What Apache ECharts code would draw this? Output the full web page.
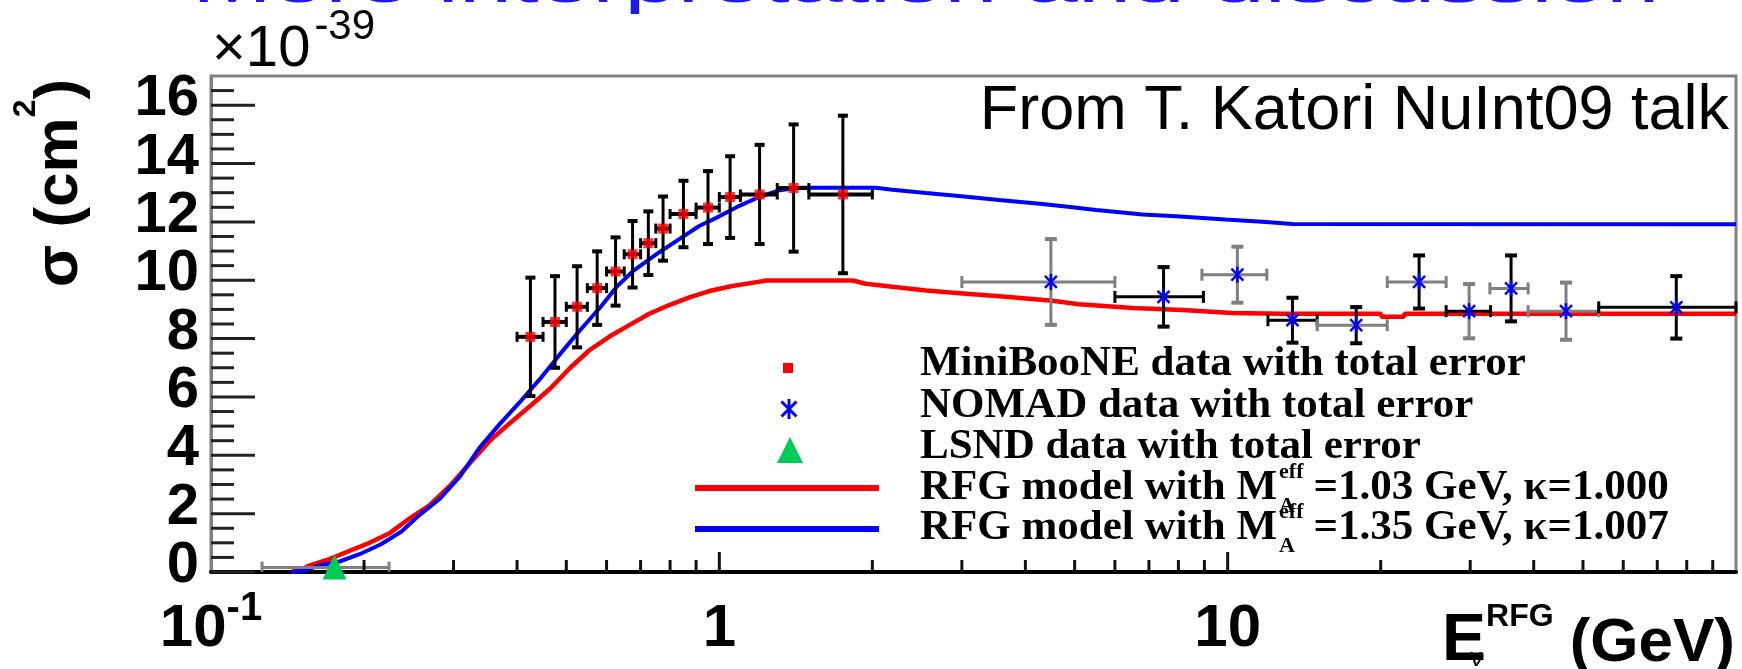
<!DOCTYPE html>
<html>
<head>
<meta charset="utf-8">
<script src="https://cdn.jsdelivr.net/npm/echarts@6/dist/echarts.min.js"></script>
<style>
  html, body { margin: 0; padding: 0; background: #fff; }
  #chart { width: 1742px; height: 669px; }
</style>
</head>
<body>
<div id="chart"></div>
<script>
// CCQE cross section per neutron versus neutrino energy, in units of 1e-39 cm^2

// MiniBooNE (bin centres, bin edges, sigma, total error)
const miniE      = [0.425, 0.475, 0.525, 0.575, 0.625, 0.675, 0.725, 0.775, 0.85, 0.95, 1.05, 1.2, 1.4, 1.75];
const miniELow   = [0.40, 0.45, 0.50, 0.55, 0.60, 0.65, 0.70, 0.75, 0.80, 0.90, 1.00, 1.10, 1.30, 1.50];
const miniEHigh  = [0.45, 0.50, 0.55, 0.60, 0.65, 0.70, 0.75, 0.80, 0.90, 1.00, 1.10, 1.30, 1.50, 2.00];
const miniSigma  = [8.06, 8.57, 9.09, 9.73, 10.30, 10.89, 11.27, 11.77, 12.27, 12.49, 12.85, 12.94, 13.16, 12.94];
const miniErr    = [2.03, 1.57, 1.39, 1.26, 1.17, 1.14, 1.09, 1.10, 1.14, 1.25, 1.40, 1.70, 2.18, 2.70];

// NOMAD
const nomadE     = [4.49, 7.48, 10.45, 13.41, 17.9, 23.8, 29.85, 36.1, 46.3, 76.3];
const nomadELow  = [3.0, 6.0, 8.9, 12.0, 15.0, 20.6, 26.9, 32.8, 39.0, 53.7];
const nomadEHigh = [6.0, 8.96, 11.94, 15.0, 20.6, 26.9, 32.9, 39.0, 53.7, 100];
const nomadSigma = [9.94, 9.43, 10.19, 8.63, 8.46, 9.94, 8.94, 9.72, 8.94, 9.07];
const nomadErr   = [1.47, 1.02, 0.96, 0.77, 0.62, 0.91, 0.93, 1.13, 0.98, 1.07];

// LSND
const lsndE      = [0.175];
const lsndELow   = [0.126];
const lsndEHigh  = [0.224];
const lsndSigma  = [0.15];

// RFG model, M_A = 1.03 GeV, kappa = 1.000
const rfg103E = [0.144, 0.152, 0.156, 0.171, 0.187, 0.205, 0.225, 0.246, 0.269, 0.295, 0.323, 0.354, 0.387, 0.424,
  0.465, 0.509, 0.555, 0.608, 0.665, 0.728, 0.797, 0.873, 0.956, 1.06, 1.16, 1.24, 1.83, 1.94, 2.19, 2.55, 3.06,
  3.66, 4.52, 5.10, 6.51, 8.15, 10.2, 12.8, 20.0, 20.1, 22.2, 22.3, 100];
const rfg103Sigma = [0, 0.12, 0.22, 0.44, 0.72, 1.0, 1.34, 1.84, 2.28, 2.95, 3.73, 4.51, 5.10, 5.68,
  6.29, 7.0, 7.6, 8.07, 8.46, 8.85, 9.15, 9.41, 9.63, 9.80, 9.91, 9.99, 9.99, 9.88, 9.78, 9.65, 9.54,
  9.43, 9.30, 9.18, 9.05, 8.98, 8.88, 8.85, 8.85, 8.75, 8.75, 8.85, 8.85];

// RFG model, M_A = 1.35 GeV, kappa = 1.007
const rfg135E = [0.144, 0.153, 0.163, 0.179, 0.196, 0.216, 0.237, 0.257, 0.282, 0.309, 0.337, 0.369, 0.405, 0.443,
  0.485, 0.531, 0.585, 0.63, 0.675, 0.762, 0.834, 0.913, 1.0, 1.095, 1.2, 1.31, 1.44, 2.03, 2.19, 2.55, 2.96,
  3.55, 4.32, 4.95, 5.51, 6.13, 6.80, 7.92, 9.90, 11.9, 13.4, 100];
const rfg135Sigma = [0, 0.05, 0.22, 0.36, 0.61, 0.95, 1.39, 1.95, 2.51, 3.28, 4.25, 5.05, 5.82, 6.6,
  7.45, 8.27, 9.1, 9.8, 10.3, 10.96, 11.41, 11.86, 12.19, 12.55, 12.86, 13.08, 13.17, 13.17, 13.10, 12.99, 12.89,
  12.75, 12.61, 12.50, 12.41, 12.33, 12.25, 12.19, 12.08, 12.0, 11.93, 11.92];

// Axis tick labels
const xTickValues = [0.1, 1, 10];
const xTickLabels = ['10{sup|-1}', '1', '10'];
const yMaxLabel = 16;

// Legend and annotation texts
const legendDataLabels = ['MiniBooNE data with total error', 'NOMAD data with total error', 'LSND data with total error'];
const modelPrefix = 'RFG model with M';
const modelSup = 'eff';
const modelSub = 'A';
const modelSuffix = ['=1.03 GeV, \u03ba=1.000', '=1.35 GeV, \u03ba=1.007'];
const pageTitle = 'More interpretation and discussion';
const creditText = 'From T. Katori NuInt09 talk';

// ---- styling ----
const SANS = '"Liberation Sans", Arial, Helvetica, sans-serif';
const SERIF = '"Liberation Serif", "Times New Roman", Times, serif';
const RED = '#ff0000';
const BLUE = '#0000ff';
const GREEN = '#00cc55';
const FRAME_GREY = '#808080';
const TONE = { k: '#000000', g: '#7f7f7f' };
// error-bar shading of the NOMAD points (vertical, horizontal)
const nomadVTone = ['g', 'k', 'g', 'k', 'k', 'k', 'g', 'k', 'g', 'k'];
const nomadHTone = ['g', 'k', 'g', 'k', 'g', 'g', 'k', 'g', 'g', 'k'];

// tick positions (log-decade minor ticks, half-unit minor ticks on y)
const xMajorTicks = [1, 10];
const xMinorTicks = [];
[0.1, 1, 10].forEach(d => { for (let m = 2; m <= 9; m++) xMinorTicks.push(+(m * d).toFixed(4)); });
const yMajorTicks = [], yMinorTicks = [];
for (let v = 0; v <= 16.5; v += 0.5) (v % 2 === 0 ? yMajorTicks : yMinorTicks).push(v);

const measureCtx = document.createElement('canvas').getContext('2d');
function textWidth(str, size, weight, family) {
  measureCtx.font = `${weight} ${size}px ${family}`;
  return measureCtx.measureText(str).width;
}
function midFromBaseline(baseline, size, family) {
  return baseline - size * (family === SERIF ? 0.3375 : 0.3465);
}
function text(x, baseline, str, size, weight, family, align, color, extra) {
  return Object.assign({
    type: 'text', x: x, y: midFromBaseline(baseline, size, family), silent: true, z: 100,
    style: {
      text: str, fontSize: size, fontWeight: weight, fontFamily: family, fill: color || '#000',
      align: align || 'left', verticalAlign: 'middle', textAlign: align || 'left', textVerticalAlign: 'middle'
    }
  }, extra || {});
}
function seg(x1, y1, x2, y2, color, width) {
  return { type: 'line', shape: { x1, y1, x2, y2 }, style: { stroke: color, lineWidth: width } };
}
function asteriskLines(cx, cy, r, color, width) {
  const d = r * 0.75;
  return [
    seg(cx, cy - r, cx, cy + r, color, width),
    seg(cx - d, cy - d, cx + d, cy + d, color, width),
    seg(cx - d, cy + d, cx + d, cy - d, color, width)
  ];
}

// ---- render functions ----
function renderMiniBars(params, api) {
  const x = api.value(0), y = api.value(1), xl = api.value(2), xh = api.value(3), e = api.value(4);
  const p = api.coord([x, y]), pt = api.coord([x, y + e]), pb = api.coord([x, y - e]);
  const pl = api.coord([xl, y]), pr = api.coord([xh, y]);
  const k = '#000';
  return { type: 'group', children: [
    seg(p[0], pt[1], p[0], pb[1], k, 3),
    seg(p[0] - 5, pt[1], p[0] + 5, pt[1], k, 4),
    seg(p[0] - 5, pb[1], p[0] + 5, pb[1], k, 4),
    seg(pl[0], p[1], pr[0], p[1], k, 4),
    seg(pl[0], p[1] - 5, pl[0], p[1] + 5, k, 3),
    seg(pr[0], p[1] - 5, pr[0], p[1] + 5, k, 3)
  ] };
}
function renderNomad(params, api) {
  const i = params.dataIndex;
  const x = api.value(0), y = api.value(1), xl = api.value(2), xh = api.value(3), e = api.value(4);
  const p = api.coord([x, y]), pt = api.coord([x, y + e]), pb = api.coord([x, y - e]);
  const pl = api.coord([xl, y]), pr = api.coord([xh, y]);
  const vc = TONE[nomadVTone[i]], hc = TONE[nomadHTone[i]];
  return { type: 'group', children: [
    seg(pl[0], p[1], pr[0], p[1], hc, 3),
    seg(pl[0], p[1] - 6, pl[0], p[1] + 6, hc, 3),
    seg(pr[0], p[1] - 6, pr[0], p[1] + 6, hc, 3),
    seg(p[0], pt[1], p[0], pb[1], vc, 3),
    seg(p[0] - 6, pt[1], p[0] + 6, pt[1], vc, 4),
    seg(p[0] - 6, pb[1], p[0] + 6, pb[1], vc, 4)
  ].concat(asteriskLines(p[0], p[1], 8, BLUE, 2.5)) };
}
function renderLsndBars(params, api) {
  const y = api.value(1);
  const pl = api.coord([api.value(2), y]), pr = api.coord([api.value(3), y]);
  return { type: 'group', children: [
    seg(pl[0], pl[1], pr[0], pr[1], FRAME_GREY, 3),
    seg(pl[0], pl[1] - 6, pl[0], pl[1] + 4, FRAME_GREY, 3),
    seg(pr[0], pr[1] - 6, pr[0], pr[1] + 4, FRAME_GREY, 3)
  ] };
}
function renderLsndMarker(params, api) {
  const p = api.coord([api.value(0), api.value(1)]);
  return {
    type: 'polygon', shape: { points: [[p[0], p[1] - 13], [p[0] - 12, p[1] + 12], [p[0] + 12, p[1] + 12]] },
    style: { fill: GREEN }
  };
}
function renderXTick(params, api) {
  const cs = params.coordSys;
  const px = api.coord([api.value(0), 1])[0];
  const base = cs.y + cs.height;
  const len = api.value(1) ? 20 : 12;
  return seg(px, base, px, base - len, '#111', 3);
}
function renderYTick(params, api) {
  const cs = params.coordSys;
  const py = api.coord([0.1, api.value(0)])[1];
  const len = api.value(1) ? 44 : 23;
  return seg(cs.x, py, cs.x + len, py, '#222', 3);
}

// ---- legend, labels and annotations ----
const graphics = [];
// slide heading, mostly above the top edge
graphics.push({
  type: 'text', x: 192, y: 6 - 0.3465 * 96 * 0.6, scaleY: 0.6, silent: true, z: 100,
  style: {
    text: pageTitle, fontSize: 96, fontWeight: 'normal', fontFamily: SANS, fill: '#1c1ce6',
    align: 'left', verticalAlign: 'middle', textAlign: 'left', textVerticalAlign: 'middle'
  }
});
graphics.push(text(1729, 133, creditText, 63, 'normal', SANS, 'right'));

// exponent above the y axis
const w10 = textWidth('\u00d710', 58, 'normal', SANS);
graphics.push(text(212, 70, '\u00d710', 58, 'normal', SANS, 'left'));
graphics.push(text(212 + w10 + 4, 42, '-39', 42, 'normal', SANS, 'left'));

// y-axis title, reading upward
graphics.push({
  type: 'text', x: 60, y: 183, rotation: Math.PI / 2, silent: true, z: 100,
  style: {
    text: '\u03c3 (cm{sup|2})', fontSize: 62, fontWeight: 'bold', fontFamily: SANS, fill: '#000',
    lineHeight: 100, align: 'center', verticalAlign: 'middle', textAlign: 'center', textVerticalAlign: 'middle',
    rich: { sup: { fontSize: 32, fontWeight: 'bold', fontFamily: SANS, lineHeight: 32, verticalAlign: 'top' } }
  }
});

// x-axis title: E_nu^RFG (GeV)
const wGeV = textWidth('(GeV)', 62, 'bold', SANS);
const wRFG = textWidth('RFG', 32, 'bold', SANS);
const xGeV = 1735 - wGeV;
graphics.push(text(1735, 665, '(GeV)', 62, 'bold', SANS, 'right'));
graphics.push(text(xGeV - 16, 628, 'RFG', 32, 'bold', SANS, 'right'));
graphics.push(text(xGeV - 16 - wRFG, 665, 'E', 66, 'bold', SANS, 'right'));
graphics.push(text(xGeV - 16 - wRFG - 16, 668, '\u03bd', 26, 'normal', SANS, 'left'));

// legend
const legendX = 920;
const rowBase = [378, 420, 461, 502, 542];
legendDataLabels.forEach((s, i) => graphics.push(text(legendX, rowBase[i], s, 43, 'bold', SERIF, 'left')));
const wPrefix = textWidth(modelPrefix, 43, 'bold', SERIF);
const wSup = Math.max(textWidth(modelSup, 22, 'bold', SERIF), textWidth(modelSub, 22, 'bold', SERIF));
modelSuffix.forEach((s, j) => {
  const b = rowBase[3 + j];
  graphics.push(text(legendX, b, modelPrefix, 43, 'bold', SERIF, 'left'));
  graphics.push(text(legendX + wPrefix + 2, b - 22, modelSup, 22, 'bold', SERIF, 'left'));
  graphics.push(text(legendX + wPrefix + 2, b + 12, modelSub, 22, 'bold', SERIF, 'left'));
  graphics.push(text(legendX + wPrefix + wSup + 12, b, s, 43, 'bold', SERIF, 'left'));
});
graphics.push({ type: 'rect', silent: true, z: 100, shape: { x: 783, y: 363, width: 10, height: 10 }, style: { fill: RED } });
graphics.push({ type: 'group', silent: true, z: 100, children: asteriskLines(789, 409, 10, BLUE, 3) });
graphics.push({ type: 'polygon', silent: true, z: 100, shape: { points: [[790, 437], [777, 463], [803, 463]] }, style: { fill: GREEN } });
graphics.push(Object.assign(seg(695, 488, 879, 488, RED, 6), { silent: true, z: 100 }));
graphics.push(Object.assign(seg(695, 529, 879, 529, BLUE, 6), { silent: true, z: 100 }));

// ---- chart ----
const chart = echarts.init(document.getElementById('chart'), null, { renderer: 'canvas' });
chart.setOption({
  animation: false,
  backgroundColor: '#fff',
  textStyle: { fontFamily: SANS },
  grid: { left: 211, right: 6, top: 76, bottom: 84, show: true, borderColor: FRAME_GREY, borderWidth: 3, backgroundColor: 'transparent' },
  xAxis: {
    type: 'log', logBase: 10, min: 0.1, max: 100,
    axisLine: { show: true, onZero: false, lineStyle: { color: '#000', width: 4 } },
    axisTick: { show: false }, minorTick: { show: false }, splitLine: { show: false },
    axisLabel: {
      show: true, showMinLabel: true, showMaxLabel: true, hideOverlap: false, margin: 17,
      fontSize: 60, fontWeight: 'bold', fontFamily: SANS, color: '#000', lineHeight: 80,
      formatter: v => {
        const i = xTickValues.findIndex(t => Math.abs(Math.log10(v) - Math.log10(t)) < 1e-6);
        return i < 0 ? '' : xTickLabels[i];
      },
      rich: { sup: { fontSize: 40, fontWeight: 'bold', fontFamily: SANS, color: '#000', lineHeight: 40, verticalAlign: 'top' } }
    }
  },
  yAxis: {
    type: 'value', min: 0, max: 17, interval: 2,
    axisLine: { show: true, onZero: false, lineStyle: { color: FRAME_GREY, width: 3 } },
    axisTick: { show: false }, minorTick: { show: false }, splitLine: { show: false },
    axisLabel: {
      showMinLabel: true, showMaxLabel: true, hideOverlap: false,
      margin: 12, fontSize: 58, fontWeight: 'bold', fontFamily: SANS, color: '#000',
      lineHeight: 12, verticalAlign: 'bottom',
      formatter: v => (v > yMaxLabel ? '' : String(v))
    }
  },
  graphic: graphics,
  series: [
    {
      name: 'RFG 1.03', type: 'line', z: 2, showSymbol: false, silent: true,
      data: rfg103E.map((e, i) => [e, rfg103Sigma[i]]),
      lineStyle: { color: RED, width: 4.5 }
    },
    {
      name: 'RFG 1.35', type: 'line', z: 3, showSymbol: false, silent: true,
      data: rfg135E.map((e, i) => [e, rfg135Sigma[i]]),
      lineStyle: { color: BLUE, width: 4 }
    },
    {
      name: 'LSND bars', type: 'custom', z: 4, silent: true, renderItem: renderLsndBars,
      encode: { x: 0, y: 1 },
      data: lsndE.map((e, i) => [e, lsndSigma[i], lsndELow[i], lsndEHigh[i]])
    },
    {
      name: 'MiniBooNE bars', type: 'custom', z: 4, silent: true, renderItem: renderMiniBars,
      encode: { x: 0, y: 1 },
      data: miniE.map((e, i) => [e, miniSigma[i], miniELow[i], miniEHigh[i], miniErr[i]])
    },
    {
      name: 'NOMAD', type: 'custom', z: 4, silent: true, renderItem: renderNomad,
      encode: { x: 0, y: 1 },
      data: nomadE.map((e, i) => [e, nomadSigma[i], nomadELow[i], nomadEHigh[i], nomadErr[i]])
    },
    {
      name: 'MiniBooNE', type: 'scatter', z: 5, silent: true, symbol: 'rect', symbolSize: [10, 10],
      itemStyle: { color: RED },
      data: miniE.map((e, i) => [e, miniSigma[i]])
    },
    {
      name: 'LSND', type: 'custom', z: 7, silent: true, clip: false, renderItem: renderLsndMarker,
      encode: { x: 0, y: 1 },
      data: lsndE.map((e, i) => [e, lsndSigma[i]])
    },
    {
      name: 'x ticks', type: 'custom', z: 6, silent: true, renderItem: renderXTick,
      encode: { x: 0, y: 1 },
      data: xMajorTicks.map(v => [v, 1]).concat(xMinorTicks.map(v => [v, 0]))
    },
    {
      name: 'y ticks', type: 'custom', z: 6, silent: true, renderItem: renderYTick,
      encode: { y: 0 },
      data: yMajorTicks.map(v => [v, 1]).concat(yMinorTicks.map(v => [v, 0]))
    }
  ]
});
</script>
</body>
</html>
